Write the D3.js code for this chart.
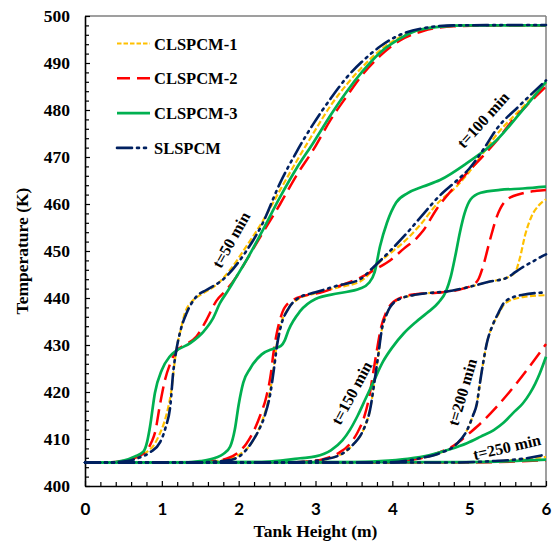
<!DOCTYPE html>
<html>
<head>
<meta charset="utf-8">
<script src="https://cdn.jsdelivr.net/npm/d3@7"></script>
<style>
  html, body { margin: 0; padding: 0; background: #fff; }
  svg { display: block; }
</style>
</head>
<body>
<svg id="chart" width="557" height="546"></svg>
<script>
// ── Data (tank height in m, temperature in K), one curve per time step ──
var seriesNames = ["CLSPCM-1", "CLSPCM-2", "CLSPCM-3", "SLSPCM"];
var timeLabels  = ["t=50 min", "t=100 min", "t=150 min", "t=200 min", "t=250 min"];
var xTicks = [0, 1, 2, 3, 4, 5, 6];
var yTicks = [400, 410, 420, 430, 440, 450, 460, 470, 480, 490, 500];

var clspcm1 = [
  [[0,405],[0.3,405],[0.5,405.3],[0.65,406],[0.8,407.2],[0.9,408.8],[0.97,411],[1.03,413.5],[1.08,416.5],[1.13,421],[1.17,426.8],[1.2,430],[1.24,432.8],[1.3,436.8],[1.39,439.2],[1.54,441],[1.71,442.8],[1.89,446],[2.1,451],[2.3,456],[2.54,463],[2.75,469],[2.97,475],[3.2,481],[3.41,485.5],[3.6,489],[3.84,492.7],[4.1,495.5],[4.4,497.2],[4.8,497.9],[5.3,498],[6,498]],
  [[0,405],[1.3,405],[1.6,405.2],[1.84,405.6],[2.0,406.6],[2.1,407.8],[2.2,410],[2.32,414.5],[2.39,418.5],[2.45,424.5],[2.49,429.5],[2.54,433.9],[2.63,437.4],[2.76,439.6],[3.0,441],[3.28,442.2],[3.58,443.5],[3.75,446],[3.84,447.7],[3.97,449.5],[4.1,451.2],[4.36,455.5],[4.58,460],[4.84,463.8],[5.0,466.8],[5.18,470.8],[5.36,474.8],[5.66,480],[6,485.7]],
  [[0,405],[2.6,405],[2.9,405.2],[3.1,405.6],[3.36,407],[3.5,409],[3.58,410.6],[3.65,413],[3.71,416.2],[3.77,422.5],[3.82,428.2],[3.86,433],[3.93,436.7],[4.06,439.5],[4.27,440.6],[4.5,441.1],[4.71,441.4],[5.01,442.4],[5.27,443.5],[5.49,444.3],[5.6,445.5],[5.66,448.5],[5.73,453.5],[5.81,457.3],[5.9,459.6],[6,461]],
  [[0,405],[3.9,405],[4.2,405.4],[4.36,405.9],[4.62,407],[4.84,409],[4.97,411.8],[5.05,415],[5.1,417.5],[5.14,421.9],[5.18,426],[5.23,430.4],[5.3,434],[5.38,436.5],[5.47,438.9],[5.7,440.2],[6,440.6]],
  [[0,405],[4.8,405],[5.4,405.3],[6,406.2]]
];

var clspcm2 = [
  [[0,405],[0.3,405],[0.5,405.3],[0.65,406],[0.8,407.5],[0.87,409.5],[0.91,411.3],[0.98,417.7],[1.04,422.5],[1.11,426.1],[1.19,428.8],[1.3,430],[1.45,431.8],[1.58,435.3],[1.71,439.4],[1.84,441.7],[1.97,444.5],[2.1,448],[2.3,453.5],[2.54,460],[2.75,466],[2.97,471.5],[3.2,478],[3.41,483],[3.6,487.3],[3.84,491.5],[4.1,494.8],[4.4,496.8],[4.8,497.8],[5.3,498],[6,498]],
  [[0,405],[1.3,405],[1.6,405.2],[1.84,405.8],[2.0,407.2],[2.1,409],[2.19,411.5],[2.28,415],[2.36,419],[2.42,424],[2.45,428],[2.49,432],[2.54,435.5],[2.6,438],[2.76,440],[3.1,441.3],[3.35,442.8],[3.58,444.3],[3.8,446.3],[3.97,448],[4.15,450.5],[4.32,452.8],[4.4,454.3],[4.58,459],[4.84,464.2],[5.01,467.3],[5.14,469.5],[5.36,473.5],[5.57,477.9],[5.8,481.8],[6,485]],
  [[0,405],[2.6,405],[2.9,405.2],[3.1,405.7],[3.3,407],[3.45,409],[3.55,411.5],[3.63,414.5],[3.7,419],[3.75,424],[3.8,429],[3.85,433.5],[3.92,437],[3.97,438.4],[4.1,440],[4.3,440.8],[4.58,441.1],[4.92,442],[5.05,442.8],[5.12,444],[5.18,446.7],[5.27,452.3],[5.36,457.3],[5.49,460.9],[5.7,462.3],[5.88,462.8],[6,463]],
  [[0,405],[3.9,405],[4.2,405.4],[4.4,406],[4.62,407.2],[4.8,408.6],[4.9,409.8],[5.0,411.2],[5.1,412.6],[5.36,416.9],[5.62,421.9],[5.88,427.5],[6,430.2]],
  [[0,405],[5,405],[6,405.5]]
];

var clspcm3 = [
  [[0,405],[0.3,405],[0.5,405.4],[0.65,406.3],[0.76,407.3],[0.81,409.5],[0.846,412.6],[0.91,419.8],[1.0,424.7],[1.1,427.5],[1.19,428.8],[1.37,430.4],[1.54,432.8],[1.66,435.5],[1.76,439],[1.87,441.8],[1.97,444.5],[2.1,448],[2.3,454],[2.54,461.5],[2.75,467.5],[2.97,473],[3.2,479],[3.41,484],[3.6,488],[3.84,492.2],[4.06,494.8],[4.3,496.8],[4.6,497.7],[5,498],[6,498]],
  [[0,405],[1.3,405],[1.5,405.3],[1.7,406],[1.8,406.8],[1.89,408.4],[1.95,412],[2.0,417.3],[2.06,422],[2.15,425],[2.3,428],[2.45,429.2],[2.55,429.8],[2.6,431],[2.65,433.2],[2.8,437.2],[3.0,439.8],[3.3,441],[3.58,442],[3.7,443.3],[3.77,445.5],[3.84,451],[3.93,456],[4.05,460.3],[4.2,462.3],[4.4,463.7],[4.62,465.1],[4.97,468.7],[5.36,473.6],[5.66,479.3],[6,486]],
  [[0,405],[2.3,405.1],[2.6,405.5],[2.8,405.9],[3.0,406.3],[3.2,407.6],[3.35,409.7],[3.45,412],[3.55,415],[3.65,418.5],[3.75,422],[3.88,426.5],[4.0,429.5],[4.15,432.5],[4.3,434.8],[4.45,436.8],[4.6,439],[4.7,441.5],[4.76,444.5],[4.82,449],[4.88,454],[4.94,458],[5.02,461],[5.15,462.4],[5.4,463],[5.7,463.3],[6,463.7]],
  [[0,405],[3.5,405.1],[3.84,405.3],[4.2,405.8],[4.49,406.6],[4.75,407.8],[4.97,409.1],[5.15,410.5],[5.32,411.9],[5.45,413.5],[5.57,415.5],[5.7,417.6],[5.79,419.7],[5.86,421.8],[5.92,424],[6,427.5]],
  [[0,405],[5,405.1],[6,405.6]]
];

var slspcm = [
  [[0,405],[0.3,405],[0.55,405.3],[0.7,406],[0.85,407.2],[0.98,409.4],[1.05,412.5],[1.11,417],[1.15,424.5],[1.19,429],[1.25,433.5],[1.32,436.7],[1.45,440.3],[1.58,441.7],[1.8,444],[2.1,450],[2.3,455.5],[2.54,464.5],[2.75,471],[2.97,477],[3.2,482.5],[3.41,487],[3.6,490.2],[3.84,493.5],[4.1,496],[4.4,497.4],[4.8,498],[6,498.1]],
  [[0,405],[1.3,405],[1.6,405.1],[1.84,405.4],[2.0,406.2],[2.15,408.8],[2.25,411.5],[2.34,415],[2.41,419.5],[2.46,425],[2.5,430],[2.55,434],[2.65,437.8],[2.78,440],[3.0,441.2],[3.28,442.6],[3.58,444],[3.75,446.5],[3.97,450],[4.2,454],[4.4,457.8],[4.6,461.5],[4.84,465],[5.0,467.5],[5.18,471.5],[5.36,476],[5.66,481],[6,486.3]],
  [[0,405],[2.6,405],[2.9,405.2],[3.1,405.6],[3.36,407],[3.5,409],[3.58,410.6],[3.65,413],[3.71,416.2],[3.77,422.5],[3.82,428.2],[3.86,433],[3.93,436.7],[4.06,439.5],[4.27,440.6],[4.5,441.1],[4.71,441.4],[5.01,442.4],[5.27,443.5],[5.49,444.3],[5.6,445.5],[5.71,446.7],[5.8,447.5],[5.94,448.8],[6,449.3]],
  [[0,405],[3.9,405],[4.2,405.4],[4.36,405.9],[4.62,407],[4.84,409],[4.97,411.8],[5.05,415],[5.1,417.5],[5.14,421.9],[5.18,426],[5.23,430.4],[5.3,434],[5.38,436.8],[5.47,439.3],[5.7,440.7],[6,441.2]],
  [[0,405],[4.8,405],[5.3,405.3],[5.7,405.8],[6,406.7]]
];

// label anchors for the time annotations: [height, temperature, angle]
var timeLabelPos = [[1.90, 452.4, -61], [5.18, 477.9, -48], [3.47, 419.8, -62], [4.91, 420, -74], [5.49, 408.3, -13]];

// ── Layout ──────────────────────────────────────────────
var W = 557, H = 546;
var plotL = 85, plotR = 546, plotT = 16, plotB = 486;
var serif = "'Liberation Serif', 'Times New Roman', serif";

var svg = d3.select("#chart");
svg.append("rect").attr("width", W).attr("height", H).attr("fill", "#fff");

var x = d3.scaleLinear().domain([0, 6]).range([plotL, plotR]);
var y = d3.scaleLinear().domain([400, 500]).range([plotB, plotT]);

// frame (top/right grey)
svg.append("line").attr("x1", plotL).attr("x2", plotR).attr("y1", plotT).attr("y2", plotT)
  .attr("stroke", "#7f7f7f").attr("stroke-width", 1.5);
svg.append("line").attr("x1", plotR).attr("x2", plotR).attr("y1", plotT).attr("y2", plotB)
  .attr("stroke", "#7f7f7f").attr("stroke-width", 1.5);

// minor ticks
var yMinor = d3.range(400, 500.1, 2).filter(function(v) { return v % 10 !== 0; });
var xMinor = d3.range(0, 30.1, 1).filter(function(v) { return v % 5 !== 0; }).map(function(v) { return v / 5; });

svg.append("g").attr("transform", "translate(" + plotL + ",0)")
  .call(d3.axisLeft(y).tickValues(yMinor).tickSize(-4).tickFormat(""))
  .call(function(g) { g.select(".domain").remove(); g.selectAll("line").attr("stroke", "#000").attr("stroke-width", 1.2); });
svg.append("g").attr("transform", "translate(0," + plotB + ")")
  .call(d3.axisBottom(x).tickValues(xMinor).tickSize(-4).tickFormat(""))
  .call(function(g) { g.select(".domain").remove(); g.selectAll("line").attr("stroke", "#000").attr("stroke-width", 1.2); });

// major axes
svg.append("g").attr("transform", "translate(" + plotL + ",0)")
  .call(d3.axisLeft(y).tickValues(yTicks).tickSize(-5).tickSizeOuter(0).tickPadding(15).tickFormat(d3.format("d")))
  .call(function(g) {
    g.select(".domain").attr("stroke", "#000").attr("stroke-width", 1.6);
    g.selectAll("line").attr("stroke", "#000").attr("stroke-width", 1.2);
    g.selectAll("text").attr("fill", "#000").style("font-family", serif)
      .style("font-weight", "bold").style("font-size", "17.5px");
  });

svg.append("g").attr("transform", "translate(0," + plotB + ")")
  .call(d3.axisBottom(x).tickValues(xTicks).tickSize(-5).tickSizeOuter(0).tickPadding(17).tickFormat(d3.format("d")))
  .call(function(g) {
    g.select(".domain").attr("stroke", "#000").attr("stroke-width", 1.6);
    g.selectAll("line").attr("stroke", "#000").attr("stroke-width", 1.2);
    g.selectAll("text").attr("fill", "#000").style("font-family", "Lato, 'Open Sans', sans-serif")
      .style("font-weight", "bold").style("font-size", "17px");
  });

// axis titles
svg.append("text")
  .attr("x", (plotL + plotR) / 2).attr("y", 537)
  .attr("text-anchor", "middle")
  .style("font-family", serif).style("font-weight", "bold").style("font-size", "17.5px")
  .text("Tank Height (m)");

svg.append("text")
  .attr("transform", "translate(28," + ((plotT + plotB) / 2) + ") rotate(-90)")
  .attr("text-anchor", "middle")
  .style("font-family", serif).style("font-weight", "bold").style("font-size", "17.5px")
  .text("Temperature (K)");

// ── Curves ──────────────────────────────────────────────
var styles = [
  { color: "#FFC000", width: 2.2, dash: "6,2.5" },
  { color: "#FF0000", width: 2.5, dash: "16,7" },
  { color: "#00B050", width: 2.7, dash: null },
  { color: "#002060", width: 2.6, dash: "15,5,2,5,2,5" }
];
var allSeries = [clspcm1, clspcm2, clspcm3, slspcm];

var line = d3.line()
  .x(function(d) { return x(d[0]); })
  .y(function(d) { return y(d[1]); })
  .curve(d3.curveMonotoneX);

var curves = svg.append("g");
allSeries.forEach(function(s, si) {
  s.forEach(function(pts) {
    curves.append("path")
      .attr("d", line(pts))
      .attr("fill", "none")
      .attr("stroke", styles[si].color)
      .attr("stroke-width", styles[si].width)
      .attr("stroke-dasharray", styles[si].dash)
      .attr("stroke-linecap", si === 3 ? "round" : "butt");
  });
});

// time annotations
timeLabels.forEach(function(t, i) {
  var p = timeLabelPos[i];
  svg.append("text")
    .attr("transform", "translate(" + x(p[0]) + "," + y(p[1]) + ") rotate(" + p[2] + ")")
    .attr("text-anchor", "middle").attr("dy", "0.35em")
    .style("font-family", serif).style("font-weight", "bold").style("font-size", "16px")
    .text(t);
});

// ── Legend ──────────────────────────────────────────────
seriesNames.forEach(function(name, i) {
  var ly = 43.5 + i * 34.8;
  svg.append("line")
    .attr("x1", 117).attr("x2", 150).attr("y1", ly).attr("y2", ly)
    .attr("stroke", styles[i].color)
    .attr("stroke-width", styles[i].width)
    .attr("stroke-dasharray", i === 0 ? "4.5,2" : (i === 1 ? "13,7" : (i === 3 ? "15,5,2,5,2,5" : null)))
    .attr("stroke-linecap", i === 3 ? "round" : "butt");
  svg.append("text")
    .attr("x", 154).attr("y", ly + 6)
    .style("font-family", serif).style("font-weight", "bold").style("font-size", "16.5px")
    .text(name);
});
</script>
</body>
</html>
